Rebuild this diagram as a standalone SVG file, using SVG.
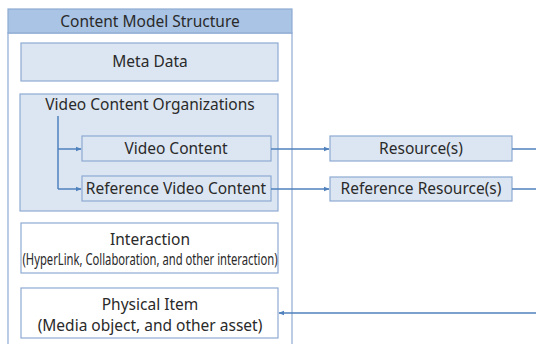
<svg xmlns="http://www.w3.org/2000/svg" width="536" height="344" viewBox="0 0 536 344">
  <defs>
    <style>
      .box { fill: #dce6f2; stroke: #8eaad2; stroke-width: 1.2; }
      .plain { fill: #ffffff; stroke: #8eaad2; stroke-width: 1.2; }
      .outer { fill: #ffffff; stroke: #8eaad2; stroke-width: 1.2; }
      .title { fill: #a9c4e4; stroke: #8eaad2; stroke-width: 1.2; }
      text { font-family: "Noto Sans", "Open Sans", "DejaVu Sans", sans-serif; font-size: 15.5px; fill: #2a2a2a; text-anchor: middle; }
      .wire { fill: none; stroke: #4f81bd; stroke-width: 1.5; }
    </style>
    <marker id="arrow" viewBox="0 0 10 10" refX="9" refY="5" markerWidth="6" markerHeight="6" orient="auto" markerUnits="userSpaceOnUse">
      <path d="M0,1 L10,5 L0,9 z" fill="#4f81bd"/>
    </marker>
  </defs>

  <rect width="536" height="344" fill="#ffffff"/>

  <!-- container -->
  <g id="structure">
    <rect class="outer" x="8" y="33" width="284" height="320"/>
    <rect class="title" x="8" y="9" width="284" height="24"/>
    <text x="150" y="27">Content Model Structure</text>
  </g>

  <g id="meta-data">
    <rect class="box" x="21" y="43" width="257" height="38"/>
    <text x="150" y="67">Meta Data</text>
  </g>

  <g id="video-content-organizations">
    <rect class="box" x="20" y="94" width="258" height="117"/>
    <text x="150" y="110">Video Content Organizations</text>
  </g>

  <g id="video-content">
    <rect class="box" x="82" y="136" width="189" height="25"/>
    <text x="176" y="154">Video Content</text>
  </g>

  <g id="reference-video-content">
    <rect class="box" x="82" y="176" width="189" height="25"/>
    <text x="176" y="194">Reference Video Content</text>
  </g>

  <g id="resources">
    <rect class="box" x="330" y="136" width="182" height="25"/>
    <text x="421" y="154">Resource(s)</text>
  </g>

  <g id="reference-resources">
    <rect class="box" x="330" y="177" width="182" height="24"/>
    <text x="421" y="194">Reference Resource(s)</text>
  </g>

  <g id="interaction">
    <rect class="plain" x="21" y="223" width="257" height="50"/>
    <text x="150" y="245">Interaction</text>
    <text x="150" y="265" font-size="13" textLength="255" lengthAdjust="spacingAndGlyphs">(HyperLink, Collaboration, and other interaction)</text>
  </g>

  <g id="physical-item">
    <rect class="plain" x="21" y="288" width="257" height="50"/>
    <text x="150" y="310">Physical Item</text>
    <text x="150" y="331">(Media object, and other asset)</text>
  </g>

  <!-- connectors -->
  <g id="connectors">
    <path class="wire" d="M58,116 V189"/>
    <path class="wire" d="M58,149 H81" marker-end="url(#arrow)"/>
    <path class="wire" d="M58,189 H81" marker-end="url(#arrow)"/>
    <path class="wire" d="M271,149 H329" marker-end="url(#arrow)"/>
    <path class="wire" d="M271,189 H329" marker-end="url(#arrow)"/>
    <path class="wire" d="M512,149 H536"/>
    <path class="wire" d="M512,189 H536"/>
    <path class="wire" d="M536,313 H279" marker-end="url(#arrow)"/>
  </g>
</svg>
